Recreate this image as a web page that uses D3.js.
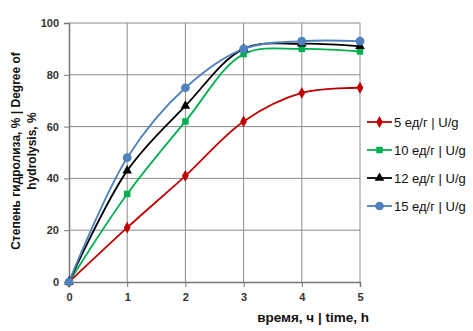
<!DOCTYPE html>
<html>
<head>
<meta charset="utf-8">
<script src="https://cdn.jsdelivr.net/npm/d3@7"></script>
<style>
  body { margin: 0; background: #fff; }
  svg { display: block; font-family: "Liberation Sans", Arial, sans-serif; }
</style>
</head>
<body>
<svg width="473" height="331"></svg>
<script>
// time points, hours
const hours = [0, 1, 2, 3, 4, 5];

// degree of hydrolysis, % for each enzyme dose
const dose5 = [0, 21, 41, 62, 73, 75];
const dose10 = [0, 34, 62, 88, 90, 89];
const dose12 = [0, 43, 68, 90, 92, 91];
const dose15 = [0, 48, 75, 90, 93, 93];

const seriesNames = ["5 ед/г | U/g", "10 ед/г | U/g", "12 ед/г | U/g", "15 ед/г | U/g"];
const yTicks = [0, 20, 40, 60, 80, 100];

const series = [
  { name: seriesNames[0], values: dose5, color: "#c00000", marker: d3.symbolDiamond, size: 40 },
  { name: seriesNames[1], values: dose10, color: "#00b050", marker: d3.symbolSquare, size: 42 },
  { name: seriesNames[2], values: dose12, color: "#000000", marker: d3.symbolTriangle, size: 40 },
  { name: seriesNames[3], values: dose15, color: "#4f81bd", marker: d3.symbolCircle, size: 60 }
];

const svg = d3.select("svg");
const plotL = 69, plotR = 360, plotT = 23, plotB = 282;

const x = d3.scaleLinear().domain([0, 5]).range([plotL, plotR]);
const y = d3.scaleLinear().domain([0, 100]).range([plotB, plotT]);

// grid
svg.append("g")
  .selectAll("line")
  .data(yTicks.slice(1))
  .join("line")
  .attr("x1", plotL).attr("x2", plotR)
  .attr("y1", d => y(d)).attr("y2", d => y(d))
  .attr("stroke", "#8c8c8c").attr("stroke-width", 1);

svg.append("g")
  .selectAll("line")
  .data(hours.slice(1))
  .join("line")
  .attr("x1", d => x(d)).attr("x2", d => x(d))
  .attr("y1", plotT).attr("y2", plotB)
  .attr("stroke", "#8c8c8c").attr("stroke-width", 1);

// axes
const yAxis = svg.append("g")
  .attr("transform", `translate(${plotL},0)`)
  .call(d3.axisLeft(y).tickValues(yTicks).tickSize(5).tickPadding(5));
const xAxis = svg.append("g")
  .attr("transform", `translate(0,${plotB})`)
  .call(d3.axisBottom(x).tickValues(hours).tickFormat(d3.format("d")).tickSize(5).tickPadding(6));

[yAxis, xAxis].forEach(a => {
  a.select(".domain").attr("stroke", "#777").attr("stroke-width", 1.5);
  a.selectAll(".tick line").attr("stroke", "#777");
  a.selectAll("text")
    .attr("font-size", 11)
    .attr("font-weight", "bold")
    .attr("fill", "#333")
    .attr("font-family", "Liberation Sans, Arial, sans-serif");
});

// lines
const line = d3.line()
  .x((d, i) => x(hours[i]))
  .y(d => y(d))
  .curve(d3.curveCatmullRom.alpha(0.5));

const g = svg.append("g");
series.forEach(s => {
  g.append("path")
    .attr("d", line(s.values))
    .attr("fill", "none")
    .attr("stroke", s.color)
    .attr("stroke-width", 1.8);
});
series.forEach(s => {
  g.append("g")
    .selectAll("path")
    .data(s.values)
    .join("path")
    .attr("transform", (d, i) => `translate(${x(hours[i])},${y(d)})`)
    .attr("d", d3.symbol(s.marker, s.size))
    .attr("fill", s.color);
});

// legend
const legend = svg.append("g")
  .selectAll("g")
  .data(series)
  .join("g")
  .attr("transform", (d, i) => `translate(367,${122 + i * 28})`);
legend.append("line")
  .attr("x1", 0).attr("x2", 25)
  .attr("stroke", d => d.color).attr("stroke-width", 1.8);
legend.append("path")
  .attr("transform", "translate(12.5,0)")
  .attr("d", d => d3.symbol(d.marker, d.size)())
  .attr("fill", d => d.color);
legend.append("text")
  .attr("x", 27).attr("dy", "0.35em")
  .attr("font-size", 13)
  .attr("fill", "#111")
  .text(d => d.name);

// axis titles
svg.append("text")
  .attr("x", 369).attr("y", 322)
  .attr("text-anchor", "end")
  .attr("font-size", 13.5).attr("font-weight", "bold")
  .attr("fill", "#111")
  .text("время, ч | time, h");

const yTitle = svg.append("text")
  .attr("transform", "translate(0,151) rotate(-90)")
  .attr("text-anchor", "middle")
  .attr("font-size", 12).attr("font-weight", "bold")
  .attr("fill", "#111");
yTitle.append("tspan").attr("x", 0).attr("y", 20).text("Степень гидролиза, % | Degree of");
yTitle.append("tspan").attr("x", 0).attr("y", 36).text("hydrolysis, %");
</script>
</body>
</html>
